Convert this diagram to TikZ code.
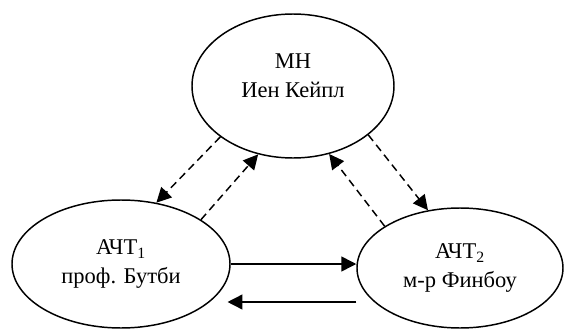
\documentclass[tikz,border=0pt]{standalone}
\usepackage{fontspec}
\setmainfont{Liberation Serif}
\usetikzlibrary{shapes.geometric,arrows.meta}
\begin{document}
\begin{tikzpicture}[
  ell/.style={draw,ellipse,line width=1.05pt,inner sep=0pt,align=center,font=\fontsize{16pt}{20.5pt}\selectfont},
  solidarrow/.style={line width=1.05pt,-{Triangle[length=0.37cm,width=0.37cm]}},
  dasharrow/.style={line width=1.05pt,dash pattern=on 5.5pt off 3.5pt,-{Triangle[length=0.37cm,width=0.37cm]}}]
\useasboundingbox (0,0) rectangle (14.1,8.3);
\node[ell,minimum width=5.05cm,minimum height=3.6cm,
  label={[align=center,font=\fontsize{16pt}{20.5pt}\selectfont,yshift=0.26cm]center:МН\\Иен Кейпл}] (mn) at (7.325,6.15) {};
\node[ell,minimum width=5.45cm,minimum height=3.2cm] (acht1) at (3.025,1.7) {АЧТ\textsubscript{1}\\проф. Бутби};
\node[ell,minimum width=5.15cm,minimum height=3.0cm] (acht2) at (11.5,1.6) {АЧТ\textsubscript{2}\\м-р Финбоу};
\draw[dasharrow] (mn.215) -- (acht1.60);
\draw[dasharrow] (acht1.29) -- (mn.243);
\draw[dasharrow] (acht2.151) -- (mn.298);
\draw[dasharrow] (mn.327) -- (acht2.119);
\draw[solidarrow] (acht1.east) -- (acht1.east -| acht2.west);
\coordinate (backstart) at ([yshift=-0.85cm]acht2.west);
\coordinate (backend) at ([xshift=-0.08cm,yshift=-0.95cm]acht1.east);
\draw[solidarrow] (backstart) -- (backend);
\end{tikzpicture}
\end{document}
